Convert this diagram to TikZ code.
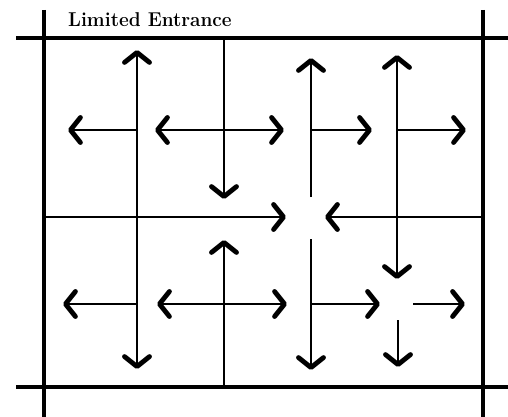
\documentclass[tikz,border=0pt]{standalone}
\usepackage{fontspec}
\usepackage{graphicx}
\usepackage{tikz}
\usetikzlibrary{arrows.meta}
\tikzset{
  % --- walls and lanes -------------------------------------------------
  wall/.style   ={line width=4.5pt, draw=black},
  lane/.style   ={line width=2.2pt, draw=black},
  % --- arrows ----------------------------------------------------------
  flowtip/.tip  ={Straight Barb[length=10pt, width=25pt, line width=0pt 2.2, round]},
  arrow/.style  ={lane, -flowtip},
  twoway/.style ={lane, flowtip-flowtip},
  % --- annotation ------------------------------------------------------
  ttl/.style    ={font=\fontsize{20}{22}\selectfont\bfseries, text=black, inner sep=0pt},
}

\begin{document}
\begin{tikzpicture}[x=1pt, y=-1pt]
  \useasboundingbox (0,0) rectangle (508,417);

  % ===================== title =====================
  \node[ttl, anchor=base west] (title) at (68,27) {\scalebox{0.95}[1]{Limited Entrance}};

  % ===================== walls =====================
  \draw[wall] (44,10) -- (44,417);
  \draw[wall] (483,10) -- (483,417);
  \draw[wall] (16,38) -- (508,38);
  \draw[wall] (16,387) -- (508,387);

  % ===================== long lanes =====================
  \draw[twoway] (137,50) -- (137,369);
  \draw[arrow] (44,217) -- (286,217);
  \draw[arrow] (483,217) -- (325,217);
  \draw[arrow] (224,38) -- (224,199);
  \draw[arrow] (224,387) -- (224,240);
  \draw[twoway] (397,55) -- (397,279);

  % ===================== upper half =====================
  \draw[arrow] (137,130) -- (68,130);
  \draw[twoway] (155,130) -- (284,130);
  \draw[arrow] (311,197) -- (311,58);
  \draw[arrow] (311,130) -- (372,130);
  \draw[arrow] (397,130) -- (466,130);

  % ===================== lower half =====================
  \draw[arrow] (137,304) -- (63,304);
  \draw[twoway] (157,304) -- (287,304);
  \draw[arrow] (311,239) -- (311,370);
  \draw[arrow] (311,304) -- (380,304);
  \draw[arrow] (413,304) -- (465,304);
  \draw[arrow] (398,320) -- (398,367);

\end{tikzpicture}
\end{document}
